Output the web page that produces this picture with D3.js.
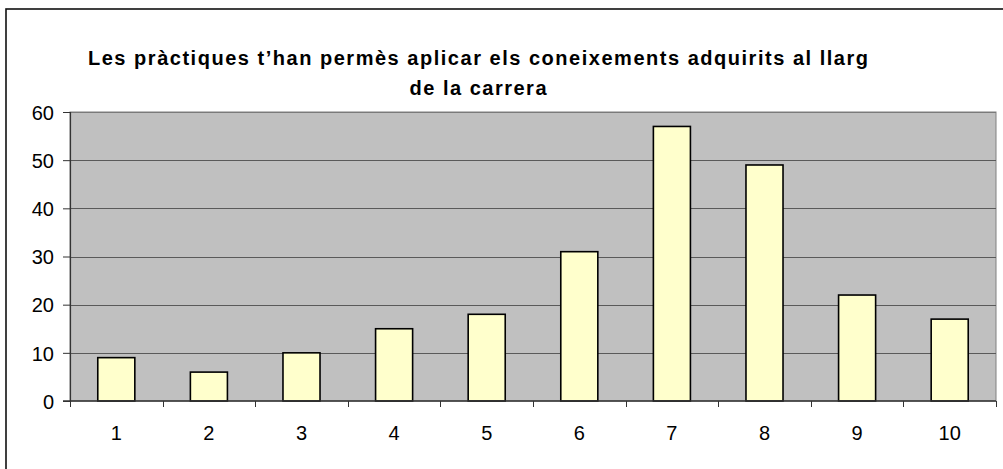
<!DOCTYPE html>
<html>
<head>
<meta charset="utf-8">
<script src="https://cdn.jsdelivr.net/npm/d3@7"></script>
<style>
  body { margin: 0; background: #fff; }
  svg { display: block; }
  text { font-family: "Liberation Sans", Arial, sans-serif; }
</style>
</head>
<body>
<svg id="chart"></svg>
<script>
// chart data
var categories = ["1", "2", "3", "4", "5", "6", "7", "8", "9", "10"];
var values = [9, 6, 10, 15, 18, 31, 57, 49, 22, 17];
var yTicks = [0, 10, 20, 30, 40, 50, 60];
var titleLines = ["Les pràctiques t’han permès aplicar els coneixements adquirits al llarg", "de la carrera"];

var W = 1003, H = 469;
var margin = {top: 112, right: 7, bottom: 68, left: 70};

var svg = d3.select("#chart").attr("width", W).attr("height", H);

// outer frame
svg.append("rect")
  .attr("x", 6).attr("y", 9)
  .attr("width", 1000).attr("height", 480)
  .attr("fill", "none")
  .attr("stroke", "#111")
  .attr("stroke-width", 1.6);

var x = d3.scaleBand()
  .domain(categories)
  .range([margin.left, W - margin.right])
  .paddingInner(0.6).paddingOuter(0.3);

var y = d3.scaleLinear()
  .domain([0, 60])
  .range([H - margin.bottom, margin.top]);

var x0 = margin.left, x1 = W - margin.right;

// plot area
svg.append("rect")
  .attr("x", x0).attr("y", y(60))
  .attr("width", x1 - x0).attr("height", y(0) - y(60))
  .attr("fill", "#c0c0c0")
  .attr("stroke", "#808080")
  .attr("stroke-width", 1);

// gridlines
svg.append("g")
  .selectAll("line")
  .data(yTicks.filter(d => d > 0))
  .enter().append("line")
  .attr("x1", x0).attr("x2", x1)
  .attr("y1", d => Math.round(y(d)) + 0.5)
  .attr("y2", d => Math.round(y(d)) + 0.5)
  .attr("stroke", d => d == 60 ? "#7a7a7a" : "#5a5a5a")
  .attr("stroke-width", 1.2);

// bars
svg.append("g")
  .selectAll("rect")
  .data(values)
  .enter().append("rect")
  .attr("x", (d, i) => x(categories[i]))
  .attr("y", d => y(d))
  .attr("width", x.bandwidth())
  .attr("height", d => y(0) - y(d))
  .attr("fill", "#ffffcc")
  .attr("stroke", "#000")
  .attr("stroke-width", 1.6);

// y axis
var yAxis = d3.axisLeft(y).tickValues(yTicks).tickSize(7).tickPadding(9);
var gy = svg.append("g")
  .attr("transform", "translate(" + x0 + ",0)")
  .call(yAxis);
gy.attr("font-size", null).attr("font-family", null);
gy.select(".domain").attr("stroke", "#333").attr("stroke-width", 1.2);
gy.selectAll(".tick line").attr("stroke", "#333");
gy.selectAll("text")
  .attr("fill", "#000")
  .attr("dy", "0.36em")
  .style("font-size", "20px");

// x axis: ticks on category boundaries
var xb = d3.scaleLinear().domain([0, categories.length]).range([x0, x1]);
var gx = svg.append("g")
  .attr("transform", "translate(0," + y(0) + ")");
gx.append("line")
  .attr("x1", x0 - 7).attr("x2", x1)
  .attr("stroke", "#333").attr("stroke-width", 1.4);
gx.selectAll(".tk")
  .data(d3.range(categories.length + 1))
  .enter().append("line")
  .attr("class", "tk")
  .attr("x1", d => Math.round(xb(d)) + 0.5).attr("x2", d => Math.round(xb(d)) + 0.5)
  .attr("y1", 0).attr("y2", 6)
  .attr("stroke", "#333");
gx.selectAll(".lbl")
  .data(categories)
  .enter().append("text")
  .attr("class", "lbl")
  .attr("x", d => x(d) + x.bandwidth() / 2)
  .attr("y", 39)
  .attr("text-anchor", "middle")
  .attr("fill", "#000")
  .style("font-size", "20px")
  .text(d => d);

// title
var title = svg.append("g");
title.append("text")
  .attr("x", 478).attr("y", 64.5)
  .attr("text-anchor", "middle")
  .attr("textLength", 780)
  .attr("lengthAdjust", "spacing")
  .style("font-size", "20px")
  .style("font-weight", "bold")
  .text(titleLines[0]);
title.append("text")
  .attr("x", 478).attr("y", 94.5)
  .attr("text-anchor", "middle")
  .attr("textLength", 137)
  .attr("lengthAdjust", "spacing")
  .style("font-size", "20px")
  .style("font-weight", "bold")
  .text(titleLines[1]);
</script>
</body>
</html>
